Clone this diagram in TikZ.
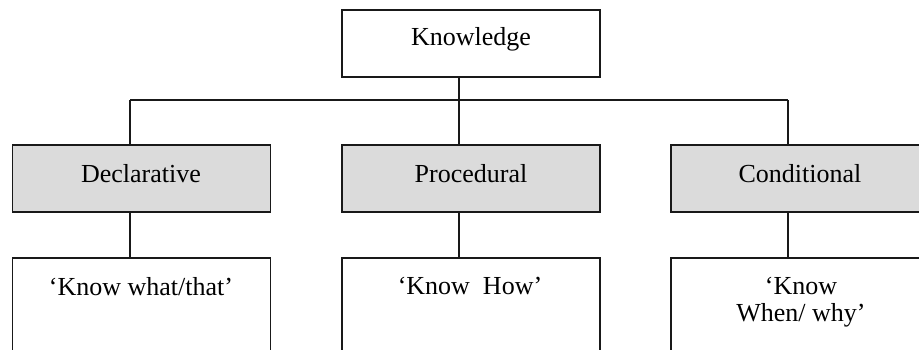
\documentclass[tikz,border=0pt]{standalone}
\usepackage{fontspec}
\setmainfont{Liberation Serif}
\begin{document}
\begin{tikzpicture}[x=1pt,y=-1pt,
  box/.style={draw=black!90, line width=1.6pt, rectangle, inner sep=0pt},
  plainbox/.style={box, fill=white, minimum width=258pt},
  shadedbox/.style={box, fill=gray!28, minimum width=258pt, minimum height=67pt},
  openbox/.style={box, fill=white, minimum width=258pt, minimum height=130pt},
  lbl/.style={anchor=base, inner sep=0pt, font=\fontsize{26}{27}\selectfont, align=center},
  wire/.style={draw=black!90, line width=1.6pt}]
\useasboundingbox (0,0) rectangle (919,349);
\clip (0,0) rectangle (919,349);

% root
\node[plainbox, minimum height=67pt] (k) at (471,43.5) {};
\node[lbl] (kt) at (471,45) {Knowledge};

% second level
\node[shadedbox] (d) at (141.5,178.5) {};
\node[shadedbox] (p) at (471,178.5) {};
\node[shadedbox] (c) at (800,178.5) {};
\node[lbl] (dt) at (141,182) {Declarative};
\node[lbl] (pt) at (471,182) {Procedural};
\node[lbl] (ct) at (800,182) {Conditional};

% third level (boxes run past the lower edge)
\node[openbox] (dk) at (141.5,323) {};
\node[openbox] (pk) at (471,323) {};
\node[openbox] (ck) at (800,323) {};
\node[lbl] (dkt) at (141,295) {‘Know what/that’};
\node[lbl] (pkt) at (470,294) {‘Know~~How’};
% two-line label: base anchor sits on the last line
\node[lbl] (ckt) at (801,321) {‘Know\\When/ why’};

% bus
\coordinate (b1) at (130,100);
\coordinate (b2) at (459,100);
\coordinate (b3) at (788,100);

\draw[wire] (k.south -| b2) -- (b2);
\draw[wire] (b1) -- (b3);
\draw[wire] (b1) -- (d.north -| b1);
\draw[wire] (b2) -- (p.north -| b2);
\draw[wire] (b3) -- (c.north -| b3);
\draw[wire] (d.south -| b1) -- (dk.north -| b1);
\draw[wire] (p.south -| b2) -- (pk.north -| b2);
\draw[wire] (c.south -| b3) -- (ck.north -| b3);
\end{tikzpicture}
\end{document}
